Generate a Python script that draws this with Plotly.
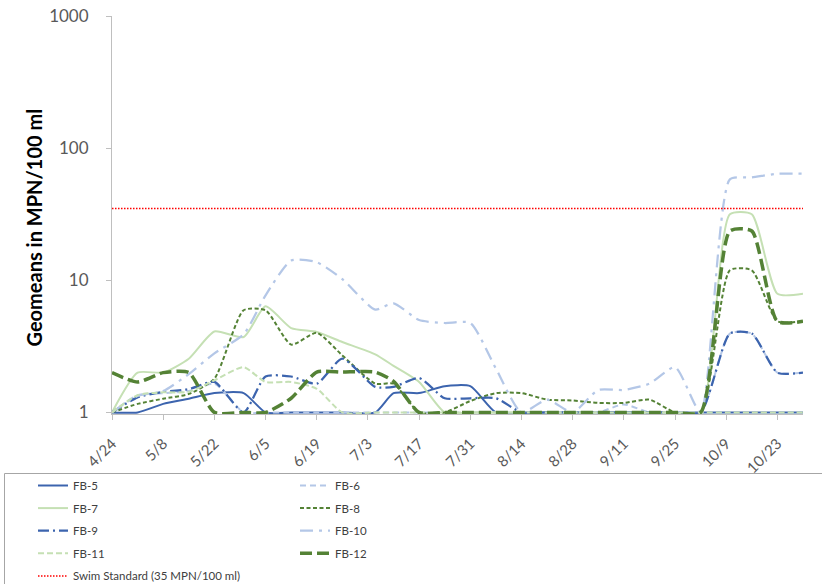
import plotly.graph_objects as go

# Sampling dates (weekly beach monitoring)
dates = ["2017-04-24", "2017-05-01", "2017-05-08", "2017-05-15", "2017-05-22", "2017-05-30",
         "2017-06-05", "2017-06-12", "2017-06-19", "2017-06-26", "2017-07-05", "2017-07-10",
         "2017-07-17", "2017-07-24", "2017-07-31", "2017-08-07", "2017-08-14", "2017-08-21",
         "2017-08-28", "2017-09-04", "2017-09-11", "2017-09-18", "2017-09-25", "2017-10-02",
         "2017-10-10", "2017-10-16", "2017-10-23", "2017-10-30"]

# Geometric means (MPN/100 ml) per station
fb5 = [1, 1, 1.16, 1.27, 1.4, 1.4, 1, 1, 1, 1, 1, 1.4, 1.4, 1.58,
       1.58, 1, 1, 1, 1, 1, 1, 1, 1, 1, 1, 1, 1, 1]
fb6 = [1, 1.35, 1.4, 1.45, 1.65, 1, 1, 1, 1, 1, 1, 1, 1, 1,
       1, 1, 1, 1, 1, 1, 1.15, 1, 1, 1, 3.95, 3.95, 2.0, 2.0]
fb7 = [1, 2.0, 2.0, 2.55, 4.1, 3.72, 6.35, 4.35, 4.06, 3.41, 2.75, 2.25, 1.7, 1,
       1, 1, 1, 1, 1, 1, 1, 1, 1, 1, 31.6, 31.6, 7.9, 7.9]
fb8 = [1, 1.16, 1.27, 1.38, 1.8, 5.93, 5.93, 3.26, 4.0, 2.7, 1.65, 1.65, 1, 1,
       1.22, 1.4, 1.4, 1.25, 1.23, 1.18, 1.18, 1.25, 1, 1, 11.9, 11.9, 4.9, 4.9]
fb9 = [1, 1.3, 1.43, 1.5, 1.7, 1, 1.87, 1.87, 1.65, 2.55, 1.56, 1.56, 1.82, 1.28,
       1.28, 1.28, 1, 1, 1, 1, 1, 1, 1, 1, 3.95, 3.95, 2.0, 2.0]
fb10 = [1, 1.33, 1.45, 1.95, 2.8, 3.9, 7.7, 14.1, 13.7, 10.2, 6.0, 6.7, 5.0, 4.75,
        4.75, 2.15, 1, 1.25, 1, 1.48, 1.48, 1.65, 2.2, 1, 58, 60, 64, 64]
fb11 = [1, 1.35, 1.42, 1.43, 1.75, 2.2, 1.7, 1.7, 1.51, 1, 1, 1, 1, 1,
        1, 1, 1, 1, 1, 1, 1, 1, 1, 1, 1, 1, 1, 1]
fb12 = [2.0, 1.7, 2.0, 2.0, 1, 1, 1, 1.28, 2.02, 2.02, 2.02, 1.72, 1, 1,
        1, 1, 1, 1, 1, 1, 1, 1, 1, 1, 23.6, 23.6, 4.89, 4.89]
swim_standard = 35

y_ticks = [1, 10, 100, 1000]

DARK_BLUE = "#3C64AE"
LIGHT_BLUE = "#B4C7E7"
DARK_GREEN = "#548235"
LIGHT_GREEN = "#C5E0B4"

series = [
    ("FB-5", fb5, DARK_BLUE, 2.0, "solid", "legend"),
    ("FB-6", fb6, LIGHT_BLUE, 2.0, "6px,4px", "legend2"),
    ("FB-7", fb7, LIGHT_GREEN, 2.0, "solid", "legend"),
    ("FB-8", fb8, DARK_GREEN, 2.0, "4px,2.5px", "legend2"),
    ("FB-9", fb9, DARK_BLUE, 2.25, "11px,4px,2px,4px", "legend"),
    ("FB-10", fb10, LIGHT_BLUE, 2.25, "13px,6px,3px,6px", "legend2"),
    ("FB-11", fb11, LIGHT_GREEN, 2.0, "6px,3px", "legend"),
    ("FB-12", fb12, DARK_GREEN, 3.5, "12px,5px", "legend2"),
]

fig = go.Figure()
for name, vals, color, width, dash, leg in series:
    fig.add_trace(go.Scatter(
        x=dates, y=vals, name=name, mode="lines", legend=leg, legendgroup=name,
        line=dict(color=color, width=width, dash=dash, shape="spline", smoothing=0.6),
    ))

fig.add_trace(go.Scatter(
    x=dates, y=[swim_standard] * len(dates), name="Swim Standard (35 MPN/100 ml)",
    mode="lines", legend="legend", legendgroup="swim",
    line=dict(color="#FF0000", width=1.5, dash="1.5px,1.5px"),
))

W, H = 822, 584
ML, MR, MT, MB = 112, 19, 16, 170
pw, ph = W - ML - MR, H - MT - MB


def px_x(p):
    return (p - ML) / pw


def px_y(p):
    return (H - MB - p) / ph


legend_font = dict(family="Lato", size=11.5, color="#404040")
fig.update_layout(
    width=W, height=H,
    margin=dict(l=ML, r=MR, t=MT, b=MB, autoexpand=False),
    paper_bgcolor="white", plot_bgcolor="white",
    font=dict(family="Lato", color="#595959"),
    showlegend=True,
    legend=dict(x=px_x(33), y=px_y(471), xanchor="left", yanchor="top",
                orientation="v", font=legend_font, bgcolor="rgba(0,0,0,0)",
                tracegroupgap=3.6, itemwidth=30),
    legend2=dict(x=px_x(295), y=px_y(471), xanchor="left", yanchor="top",
                 orientation="v", font=legend_font, bgcolor="rgba(0,0,0,0)",
                 tracegroupgap=3.6, itemwidth=30),
    xaxis=dict(
        type="date", range=[dates[0], dates[-1]],
        tick0=dates[0], dtick=14 * 86400000, tickformat="%-m/%-d",
        tickangle=-45, ticks="outside", ticklen=5, tickcolor="#BFBFBF",
        showline=True, linecolor="#BFBFBF", linewidth=1, showgrid=False,
        zeroline=False, ticklabelstandoff=9,
        tickfont=dict(family="Lato", size=15, color="#595959"),
    ),
    yaxis=dict(
        type="log", range=[-0.012, 3], tickvals=y_ticks,
        ticktext=[str(v) for v in y_ticks], ticks="outside", ticklen=5,
        tickcolor="#BFBFBF", showline=True, linecolor="#BFBFBF", linewidth=1,
        showgrid=False, zeroline=False, ticklabelstandoff=14,
        tickfont=dict(family="Lato", size=17, color="#595959"),
    ),
    annotations=[dict(
        text="<b>Geomeans in MPN/100 ml</b>", textangle=-90,
        xref="paper", yref="paper", x=px_x(33), y=px_y(227.5),
        xanchor="center", yanchor="middle", showarrow=False,
        font=dict(family="Lato", size=20, color="#000000"),
    )],
    shapes=[dict(
        type="rect", xref="paper", yref="paper",
        x0=px_x(4.5), x1=px_x(840), y0=px_y(473.5), y1=px_y(600),
        line=dict(color="#A6A6A6", width=1), fillcolor="rgba(0,0,0,0)",
    )],
)

fig.write_html("out.html")
